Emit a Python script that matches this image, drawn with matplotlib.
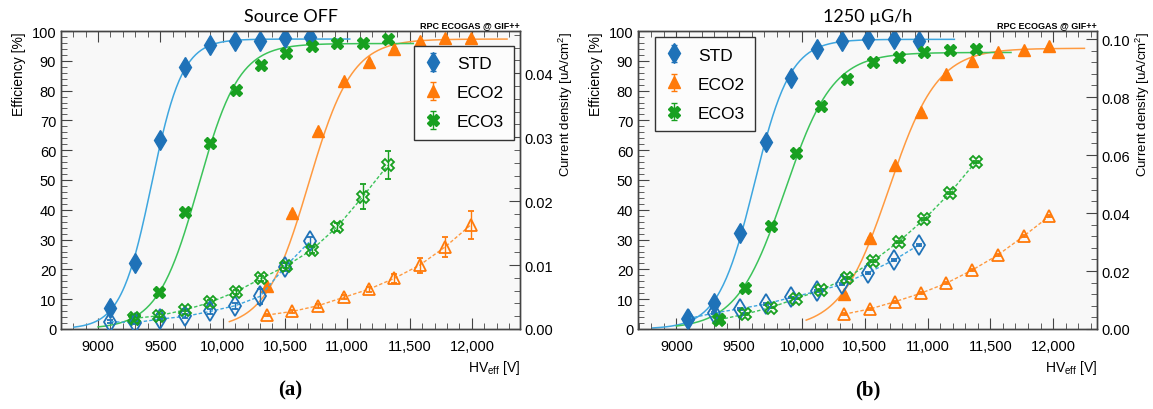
import numpy as np
import matplotlib
matplotlib.use("Agg")
import matplotlib.pyplot as plt
import matplotlib.ticker as ticker

plt.rcParams['font.family'] = ['Liberation Sans', 'DejaVu Sans']
plt.rcParams['mathtext.fontset'] = 'custom'
plt.rcParams['mathtext.rm'] = 'Liberation Sans'

# ---------------- panel (a): Source OFF ----------------
a_std_hv  = [9100, 9300, 9500, 9700, 9900, 10100, 10300, 10500, 10700]
a_std_eff = [7.2, 22.2, 63.5, 88.0, 95.4, 96.8, 96.5, 97.8, 98.0]
a_std_cur = [0.00114, 0.00100, 0.00156, 0.00197, 0.00275, 0.00364, 0.0051, 0.0097, 0.0137]
a_std_err = [0.0002, 0.0002, 0.0002, 0.0003, 0.0004, 0.0005, 0.0012, 0.0006, 0.0007]

a_eco2_hv  = [10355, 10560, 10765, 10970, 11175, 11375, 11580, 11785, 11990]
a_eco2_eff = [14.3, 38.9, 66.5, 83.3, 89.5, 94.0, 96.5, 97.7, 97.7]
a_eco2_cur = [0.00218, 0.00275, 0.00364, 0.00494, 0.00623, 0.0079, 0.00997, 0.01283, 0.01626]
a_eco2_err = [0.0002, 0.0002, 0.0003, 0.0003, 0.0004, 0.0007, 0.0012, 0.0015, 0.0022]

a_eco3_hv  = [9290, 9490, 9700, 9900, 10105, 10310, 10510, 10715, 10920, 11125, 11325]
a_eco3_eff = [3.3, 12.5, 39.3, 62.5, 80.3, 88.5, 92.5, 95.0, 96.1, 96.1, 97.2]
a_eco3_cur = [0.00166, 0.00208, 0.0030, 0.00416, 0.00582, 0.0079, 0.00987, 0.01236, 0.0160, 0.0207, 0.0256]
a_eco3_err = [0.0002, 0.0002, 0.0002, 0.0003, 0.0003, 0.0004, 0.0004, 0.0005, 0.0006, 0.0020, 0.0022]

# sigmoid fit parameters: Emax [%], lambda [1/V], HV50 [V], fit range [V]
a_std_fit  = [97.3, 0.0081, 9430, 8807, 11020]
a_eco2_fit = [97.3, 0.00574, 10689, 10054, 12282]
a_eco3_fit = [95.8, 0.0061, 9805, 9000, 11530]

# ---------------- panel (b): 1250 uG/h ----------------
b_std_hv  = [9095, 9300, 9505, 9710, 9915, 10120, 10320, 10525, 10730, 10935]
b_std_eff = [3.3, 8.7, 32.2, 62.7, 84.3, 93.8, 96.8, 97.4, 97.2, 96.8]
b_std_cur = [0.0036, 0.0055, 0.0070, 0.0086, 0.0109, 0.0130, 0.0154, 0.0194, 0.0237, 0.0291]

b_eco2_hv  = [10335, 10540, 10740, 10945, 11150, 11355, 11560, 11765, 11970]
b_eco2_eff = [11.9, 30.5, 54.9, 72.8, 85.5, 90.0, 92.8, 93.6, 94.8]
b_eco2_cur = [0.0051, 0.0069, 0.0094, 0.0123, 0.0158, 0.0203, 0.0255, 0.0320, 0.0389]

b_eco3_hv  = [9340, 9545, 9750, 9955, 10155, 10360, 10565, 10770, 10975, 11180, 11385]
b_eco3_eff = [3.3, 13.7, 34.4, 59.0, 75.0, 84.0, 89.6, 91.4, 93.0, 93.5, 94.0]
b_eco3_cur = [0.0032, 0.0051, 0.0074, 0.0105, 0.0135, 0.0177, 0.0234, 0.0301, 0.0379, 0.0470, 0.0577]

b_std_fit  = [97.2, 0.00695, 9620, 8811, 11214]
b_eco2_fit = [94.2, 0.00519, 10693, 10034, 12250]
b_eco3_fit = [92.8, 0.00524, 9864, 9000, 11665]

xticks_v = [9000, 9500, 10000, 10500, 11000, 11500, 12000]

C_STD, C_STD_L = "#1f72b8", "#3ea6df"
C_ECO2, C_ECO2_L = "#ff7a0a", "#ff9a40"
C_ECO3, C_ECO3_L = "#18a020", "#3cc35a"
BG = "#f8f8f8"


def sigmoid(p):
    emax, lam, hv50, lo, hi = p
    v = np.linspace(lo, hi, 300)
    return v, emax / (1 + np.exp(-lam * (v - hv50)))


def panel(ax, title, xlim, cur_max, cur_major, cur_minor, series, legend_loc):
    ax.set_facecolor(BG)
    ax2 = ax.twinx()
    ax2.set_zorder(ax.get_zorder() + 1)
    handles = []
    for name, hv, eff, cur, err, fit, col, col_l, mk, ms in series:
        v, e = sigmoid(fit)
        ax.plot(v, e, color=col_l, lw=1.1, zorder=2)
        h = ax.errorbar(hv, eff, yerr=0.3, fmt=mk, color=col, ms=ms, mec=col,
                        elinewidth=1, capsize=2, zorder=3, label=name)
        handles.append(h)
        ax2.errorbar(hv, cur, yerr=err, fmt=mk, color=col, ms=ms, mfc='none',
                     mec=col, mew=1.3, elinewidth=1, capsize=2, zorder=3)
        ax2.plot(hv, cur, color=col_l, lw=1.0, ls=(0, (2.5, 1.5)), zorder=2)

    ax.set_xlim(*xlim)
    ax.set_ylim(0, 100)
    ax2.set_ylim(0, cur_max)
    ax.set_xticks(xticks_v)
    ax.xaxis.set_major_formatter(ticker.FuncFormatter(
        lambda x, p: f"{int(x):,}" if x >= 10000 else f"{int(x)}"))
    ax.xaxis.set_minor_locator(ticker.MultipleLocator(100))
    ax.yaxis.set_major_locator(ticker.MultipleLocator(10))
    ax.yaxis.set_minor_locator(ticker.MultipleLocator(2))
    ax2.yaxis.set_major_locator(ticker.MultipleLocator(cur_major))
    ax2.yaxis.set_minor_locator(ticker.MultipleLocator(cur_minor))
    ax2.yaxis.set_major_formatter(ticker.FormatStrFormatter("%.2f"))

    ax.tick_params(which='both', direction='in', top=True, right=False,
                   labelsize=10.5, color='#444444')
    ax.tick_params(which='major', length=8)
    ax.tick_params(which='minor', length=4)
    ax.tick_params(axis='x', pad=7)
    ax2.tick_params(which='both', direction='in', labelsize=10.5, color='#444444')
    ax2.tick_params(which='major', length=8)
    ax2.tick_params(which='minor', length=4)
    for a in (ax, ax2):
        for s in a.spines.values():
            s.set_color('#444444')
            s.set_linewidth(1.0)

    ax.set_ylabel("Efficiency [%]", loc='top', fontsize=10)
    ax2.set_ylabel(r"Current density [uA/cm$^{\mathregular{2}}$]", loc='top',
                   fontsize=9.5, labelpad=2)
    ax.set_xlabel(r"HV$_{\mathregular{eff}}$ [V]", loc='right', fontsize=10)
    ax.set_title(title, family='Lato', fontsize=13, pad=7)
    ax.text(1.0, 1.008, "RPC ECOGAS @ GIF++", transform=ax.transAxes,
            ha='right', va='bottom', fontsize=6.5, fontweight='bold')

    leg = ax2.legend(handles=handles, loc=legend_loc[0], bbox_to_anchor=legend_loc[1],
                     fontsize=12.5, frameon=True, fancybox=False, framealpha=1,
                     facecolor='#fcfcfc', edgecolor='#333333', borderpad=0.6,
                     labelspacing=0.8, handlelength=1.0, handletextpad=0.9,
                     borderaxespad=0)
    leg.get_frame().set_linewidth(1.0)
    return ax2


fig = plt.figure(figsize=(11.53, 4.10), dpi=100)
ax_a = fig.add_axes([61 / 1153, 80 / 410, 459 / 1153, 298 / 410])
ax_b = fig.add_axes([638 / 1153, 80 / 410, 459 / 1153, 298 / 410])

panel(ax_a, "Source OFF", (8703, 12386), 0.0466, 0.01, 0.002, [
    ("STD", a_std_hv, a_std_eff, a_std_cur, a_std_err, a_std_fit, C_STD, C_STD_L, 'd', 10),
    ("ECO2", a_eco2_hv, a_eco2_eff, a_eco2_cur, a_eco2_err, a_eco2_fit, C_ECO2, C_ECO2_L, '^', 9),
    ("ECO3", a_eco3_hv, a_eco3_eff, a_eco3_cur, a_eco3_err, a_eco3_fit, C_ECO3, C_ECO3_L, 'X', 9),
], ('upper right', (0.988, 0.951)))

panel(ax_b, "1250 \u00b5G/h", (8694, 12350), 0.1028, 0.02, 0.004, [
    ("STD", b_std_hv, b_std_eff, b_std_cur, [0.0003] * 10, b_std_fit, C_STD, C_STD_L, 'd', 10),
    ("ECO2", b_eco2_hv, b_eco2_eff, b_eco2_cur, [0.0003] * 9, b_eco2_fit, C_ECO2, C_ECO2_L, '^', 9),
    ("ECO3", b_eco3_hv, b_eco3_eff, b_eco3_cur, [0.0003] * 11, b_eco3_fit, C_ECO3, C_ECO3_L, 'X', 9),
], ('upper left', (0.036, 0.98)))

for ax, lab in ((ax_a, "(a)"), (ax_b, "(b)")):
    pos = ax.get_position()
    fig.text((pos.x0 + pos.x1) / 2, 20 / 410, lab, ha='center', va='center',
             family='Liberation Serif', fontweight='bold', fontsize=15)

fig.savefig("out.png", dpi=100)
